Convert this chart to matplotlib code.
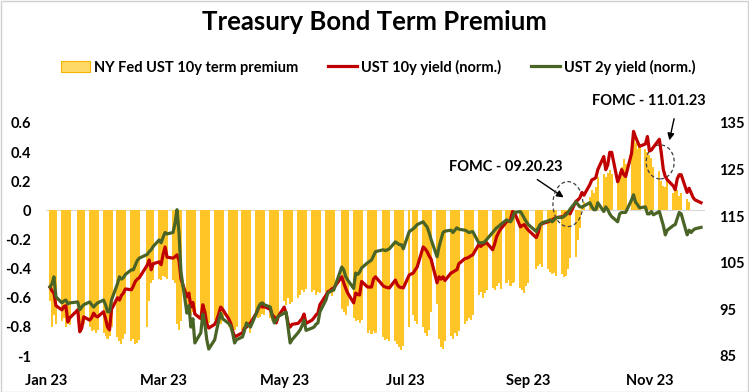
import numpy as np
import pandas as pd
import matplotlib
matplotlib.use("Agg")
import matplotlib.pyplot as plt
from matplotlib.patches import Ellipse, Patch
from matplotlib.lines import Line2D

nan = np.nan
plt.rcParams['font.family'] = ['Lato', 'DejaVu Sans']

# ---- data (business days, 2023-01-02 .. 2023-11-27), one row per week ----
start_date = '2023-01-02'
end_date = '2023-11-27'

term_premium = [
    nan, -0.62, -0.80, -0.72, -0.78,
    -0.76, -0.74, -0.80, -0.78, -0.79,
    nan, -0.74, -0.80, -0.82, -0.78,
    -0.80, -0.83, -0.82, -0.84, -0.82,
    -0.84, -0.86, -0.88, -0.86, -0.80,
    -0.87, -0.90, -0.92, -0.88, -0.85,
    -0.90, -0.88, -0.92, -0.91, -0.89,
    nan, -0.80, -0.62, -0.50, -0.48,
    -0.47, -0.48, -0.45, -0.46, -0.47,
    -0.48, -0.50, -0.78, -0.82, -0.76,
    -0.68, -0.70, -0.72, -0.70, -0.72,
    -0.74, -0.76, -0.78, -0.76, -0.77,
    -0.75, -0.77, -0.76, -0.78, -0.76,
    -0.80, -0.82, -0.84, -0.82, -0.80,
    -0.82, -0.83, -0.81, -0.80, -0.84,
    -0.72, -0.74, -0.73, -0.71, -0.72,
    -0.74, -0.76, -0.75, -0.73, -0.76,
    -0.62, -0.65, -0.60, -0.64, -0.63,
    -0.60, -0.58, -0.55, -0.56, -0.54,
    -0.56, -0.55, -0.58, -0.56, -0.57,
    -0.56, -0.58, -0.57, -0.59, -0.56,
    nan, -0.68, -0.70, -0.72, -0.66,
    -0.74, -0.76, -0.75, -0.77, -0.75,
    -0.84, -0.82, -0.85, -0.83, -0.84,
    nan, -0.87, -0.89, -0.88, -0.90,
    -0.90, -0.92, -0.94, -0.96, -0.93,
    -0.80, nan, -0.72, -0.76, -0.78,
    -0.80, -0.84, -0.86, -0.82, -0.70,
    -0.64, -0.88, -0.94, -0.95, -0.90,
    -0.86, -0.88, -0.84, -0.86, -0.83,
    -0.78, -0.76, -0.74, -0.75, -0.72,
    -0.58, -0.56, -0.60, -0.57, -0.55,
    -0.53, -0.55, -0.52, -0.50, -0.54,
    -0.50, -0.48, -0.52, -0.50, -0.49,
    -0.53, -0.55, -0.57, -0.52, -0.50,
    nan, -0.40, -0.38, -0.37, -0.39,
    -0.40, -0.42, -0.44, -0.43, -0.45,
    -0.44, -0.46, -0.45, -0.40, -0.33,
    -0.32, -0.20, -0.12, 0.02, 0.06,
    0.09, 0.14, 0.12, 0.16, 0.23,
    0.25, 0.23, 0.26, 0.28, 0.25,
    0.22, 0.26, 0.30, 0.35, 0.32,
    0.40, 0.50, 0.46, 0.42, 0.44,
    0.42, 0.40, 0.38, 0.36, 0.30,
    0.27, 0.20, 0.17, 0.16, 0.20,
    0.12, 0.14, 0.14, 0.10, 0.12,
    0.08, 0.06, nan, nan, nan,
    nan,
]

ust10y_norm = [
    nan, 99.8, 99.0, 98.5, 95.8,
    94.9, 95.6, 95.8, 92.3, 93.2,
    nan, 94.9, 90.2, 91.0, 93.4,
    92.7, 93.2, 94.2, 93.6, 93.4,
    94.5, 93.0, 91.2, 90.6, 95.0,
    97.5, 97.0, 98.0, 98.5, 99.4,
    99.2, 100.0, 101.0, 101.5, 101.8,
    nan, 104.5, 105.6, 103.5, 104.8,
    105.2, 104.6, 106.8, 108.4, 106.2,
    106.0, 106.3, 106.7, 105.5, 101.5,
    97.7, 98.5, 95.5, 96.5, 94.0,
    93.0, 96.0, 94.5, 92.0, 91.0,
    91.8, 92.7, 94.0, 95.5, 95.0,
    93.0, 92.1, 90.5, 89.1, 89.3,
    90.0, 91.0, 91.2, 91.8, 92.1,
    94.2, 95.2, 96.0, 95.5, 95.6,
    95.0, 93.8, 93.4, 92.1, 93.5,
    95.5, 94.0, 92.0, 91.2, 91.8,
    92.0, 92.5, 93.0, 94.0, 92.0,
    92.7, 93.2, 93.8, 94.2, 96.0,
    98.0, 98.8, 99.0, 99.4, 99.6,
    nan, 102.0, 100.7, 99.5, 98.5,
    96.4, 98.5, 98.2, 98.1, 101.0,
    99.8, 99.8, 99.8, 101.5, 102.0,
    nan, 100.0, 99.8, 99.7, 99.6,
    101.3, 100.3, 99.8, 99.7, 99.6,
    102.4, nan, 102.8, 103.5, 104.1,
    108.4, 108.0, 107.4, 106.5, 105.8,
    100.7, 102.0, 101.5, 102.0, 101.2,
    102.8, 103.0, 103.3, 103.5, 104.8,
    105.9, 106.0, 106.2, 106.5, 106.7,
    108.9, 108.5, 108.9, 109.1, 109.3,
    107.8, 109.0, 110.6, 111.5, 112.2,
    113.8, 114.0, 114.2, 116.0, 115.8,
    112.7, 113.0, 113.2, 112.5, 112.0,
    nan, 110.4, 111.5, 113.2, 113.4,
    113.8, 114.0, 114.2, 114.5, 114.7,
    114.9, 115.0, 115.6, 115.8, 115.5,
    118.2, 118.5, 119.0, 120.1, 119.5,
    121.8, 122.8, 123.0, 123.3, 125.0,
    127.8, 125.0, 126.0, 128.7, 128.7,
    122.4, 123.5, 125.0, 124.0, 123.5,
    128.5, 133.2, 132.0, 131.0, 130.0,
    130.5, 132.1, 129.0, 129.2, 129.8,
    131.5, 128.5, 125.0, 123.5, 122.8,
    121.5, 120.7, 123.0, 123.9, 123.9,
    120.1, 121.0, 120.0, 119.0, 118.5,
    117.9,
]

ust2y_norm = [
    nan, 99.8, 100.5, 102.0, 97.7,
    96.4, 96.8, 97.0, 96.2, 96.4,
    nan, 96.6, 94.9, 95.5, 96.0,
    96.6, 96.0, 95.5, 96.0, 96.4,
    97.0, 96.0, 94.5, 94.5, 97.0,
    100.5, 102.0, 101.5, 101.8, 102.5,
    103.5, 103.5, 104.5, 105.5, 106.0,
    nan, 106.8, 107.4, 107.8, 108.5,
    109.9, 109.3, 110.5, 111.5, 111.2,
    111.5, 113.5, 116.4, 111.5, 103.0,
    94.2, 95.8, 91.2, 93.0, 87.8,
    90.0, 94.0, 92.0, 88.5, 86.5,
    88.5, 90.6, 92.5, 94.2, 93.0,
    92.0, 91.5, 90.0, 87.8, 88.5,
    89.1, 90.5, 92.1, 91.6, 91.2,
    94.2, 95.5, 96.2, 96.4, 96.0,
    95.5, 93.5, 92.1, 92.7, 93.5,
    94.2, 94.4, 91.0, 87.8, 88.5,
    90.0, 90.6, 91.5, 92.7, 90.5,
    91.0, 91.2, 91.8, 92.1, 94.5,
    97.0, 98.5, 98.8, 99.0, 99.2,
    nan, 104.1, 103.5, 102.0, 101.3,
    99.5, 102.8, 102.5, 103.0, 103.9,
    105.0, 105.3, 105.6, 106.5, 107.4,
    nan, 107.8, 107.6, 107.8, 108.0,
    109.5, 109.2, 108.9, 108.9, 108.0,
    111.7, nan, 112.3, 112.7, 113.2,
    113.8, 113.2, 112.7, 111.5, 110.0,
    106.3, 108.4, 110.0, 111.5, 111.8,
    112.0, 111.5, 112.0, 112.5, 112.2,
    112.0, 111.8, 111.5, 111.6, 111.7,
    109.3, 109.3, 109.3, 109.5, 110.0,
    111.5, 112.0, 112.5, 112.8, 113.2,
    114.2, 114.0, 113.8, 114.5, 115.8,
    116.0, 115.3, 114.5, 113.8, 113.2,
    nan, 111.7, 112.5, 113.2, 113.6,
    114.0, 114.2, 113.8, 114.2, 114.7,
    114.7, 115.0, 115.3, 115.8, 116.5,
    118.1, 117.5, 117.0, 117.0, 117.2,
    117.9, 117.0, 116.4, 116.4, 117.9,
    116.0, 117.0, 116.4, 115.5, 114.9,
    113.8, 115.5, 115.8, 115.8, 115.8,
    118.5, 119.6, 118.0, 117.5, 116.8,
    117.0, 115.5, 115.5, 116.0, 115.3,
    116.0, 114.5, 113.0, 111.0, 112.0,
    113.0, 113.2, 114.5, 115.8, 115.5,
    111.0, 112.0, 111.5, 112.0, 112.3,
    112.6,
]

left_ticks = [-1, -0.8, -0.6, -0.4, -0.2, 0, 0.2, 0.4, 0.6]
left_labels = ['-1', '-0.8', '-0.6', '-0.4', '-0.2', '0', '0.2', '0.4', '0.6']
right_ticks = [85, 95, 105, 115, 125, 135]
x_tick_dates = ['2023-01-01', '2023-03-01', '2023-05-01', '2023-07-01', '2023-09-01', '2023-11-01']
x_tick_labels = ['Jan 23', 'Mar 23', 'May 23', 'Jul 23', 'Sep 23', 'Nov 23']

title = 'Treasury Bond Term Premium'
legend_labels = ['NY Fed UST 10y term premium', 'UST 10y yield (norm.)', 'UST 2y yield (norm.)']

# ---- styling ----
BAR_C = '#FFC526'
RED_C = '#C00000'
GREEN_C = '#4A6426'

dates = pd.bdate_range(start_date, end_date)
df = pd.DataFrame({'tp': term_premium, 'y10': ust10y_norm, 'y2': ust2y_norm}, index=dates)

fig = plt.figure(figsize=(7.49, 3.92), dpi=100)
ax = fig.add_axes([46/749, 1-356/392, 659/749, 233/392])
ax2 = ax.twinx()

tp = df['tp'].dropna()
ax.bar(tp.index, tp.values, width=1.05, color=BAR_C, linewidth=0, zorder=2)
ax.axhline(0, color='#D9D9D9', lw=0.8, zorder=1)

s10 = df['y10'].dropna()
s2 = df['y2'].dropna()
ax2.plot(s10.index, s10.values, color=RED_C, lw=2.3, solid_joinstyle='round', zorder=3)
ax2.plot(s2.index, s2.values, color=GREEN_C, lw=2.3, solid_joinstyle='round', zorder=4)

ax.set_ylim(-1, 0.6)
ax2.set_ylim(85, 135)
ax.set_xlim(pd.Timestamp('2023-01-01'), pd.Timestamp('2023-01-01') + pd.Timedelta(days=332))

ax.set_yticks(left_ticks)
ax.set_yticklabels(left_labels)
ax2.set_yticks(right_ticks)
ax2.set_yticklabels([str(v) for v in right_ticks])
ax.set_xticks([pd.Timestamp(d) for d in x_tick_dates])
ax.set_xticklabels(x_tick_labels)

for a in (ax, ax2):
    for sp in a.spines.values():
        sp.set_visible(False)
    a.tick_params(length=0, labelsize=10.5)
    for lab in a.get_xticklabels() + a.get_yticklabels():
        lab.set_fontweight('bold')
ax.tick_params(axis='y', pad=11)
ax2.tick_params(axis='y', pad=10)
ax.tick_params(axis='x', pad=13)

fig.text(0.5, 1-22/392, title, ha='center', va='center', fontsize=18.5, fontweight='bold')

handles = [Patch(facecolor='#FFD966', edgecolor='#F2B600', lw=0.8),
           Line2D([], [], color=RED_C, lw=2.3),
           Line2D([], [], color=GREEN_C, lw=2.3)]
leg = fig.legend(handles, legend_labels, loc='center', bbox_to_anchor=(0.505, 1-67/392), ncol=3,
                 frameon=False, prop={'weight': 'bold', 'size': 10.5}, handlelength=2.0,
                 handletextpad=0.3, columnspacing=2.0)

# annotations
ax.text(0.698, 0.811, 'FOMC - 09.20.23', transform=ax.transAxes, ha='center', va='center',
        fontsize=10.5, fontweight='bold')
ax.annotate('', xy=(0.789, 0.674), xytext=(0.742, 0.764), xycoords='axes fraction',
            arrowprops=dict(arrowstyle='-|>', color='black', lw=1.0, mutation_scale=10))
ax.add_patch(Ellipse((0.792, 0.652), 0.0455, 0.193, transform=ax.transAxes, fill=False,
                     ls=(0, (3, 2)), lw=0.9, ec='#404040', zorder=6))
ax.text(0.915, 1.094, 'FOMC - 11.01.23', transform=ax.transAxes, ha='center', va='center',
        fontsize=10.5, fontweight='bold')
ax.annotate('', xy=(0.945, 0.914), xytext=(0.954, 1.030), xycoords='axes fraction',
            arrowprops=dict(arrowstyle='-|>', color='black', lw=1.0, mutation_scale=10))
ax.add_patch(Ellipse((0.932, 0.833), 0.0425, 0.146, transform=ax.transAxes, fill=False,
                     ls=(0, (3, 2)), lw=0.9, ec='#404040', zorder=6))

# figure border
fig.patches.append(plt.Rectangle((0.001, 0.001), 0.998, 0.997, transform=fig.transFigure,
                                 fill=False, ec='#D0D0D0', lw=1.0))

fig.savefig('out.png', dpi=100)
